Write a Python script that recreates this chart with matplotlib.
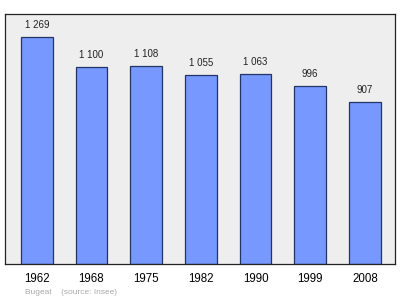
import matplotlib
matplotlib.use("Agg")
import matplotlib.pyplot as plt

years = ["1962", "1968", "1975", "1982", "1990", "1999", "2008"]
population = [1269, 1100, 1108, 1055, 1063, 996, 907]
value_labels = ["1 269", "1 100", "1 108", "1 055", "1 063", "996", "907"]

plt.rcParams['font.family'] = ['Liberation Sans', 'DejaVu Sans']

fig = plt.figure(figsize=(4.0, 2.99), dpi=100)
ax = fig.add_axes([4.5/400, 1 - 263.5/299, (395 - 4.5)/400, (263.5 - 13.5)/299])
ax.set_facecolor('#eeeeee')
x = list(range(len(years)))
ax.bar(x, population, width=0.576, color='#7799ff', edgecolor='#223366', linewidth=0.9, zorder=2)
for xi, v, lab in zip(x, population, value_labels):
    ax.annotate(lab, (xi, v), xytext=(0, 5), textcoords='offset points',
                ha='center', va='bottom', fontsize=7, color='#222222')
ax.set_xlim(-0.59, 6.55)
ax.set_ylim(0, 1400)
ax.set_yticks([])
ax.set_xticks(x)
ax.set_xticklabels(years, fontsize=8.3)
ax.tick_params(axis='x', length=0, pad=7)
for s in ax.spines.values():
    s.set_color('#222222')
    s.set_linewidth(0.9)
fig.text(25/400, 1 - 292/299, "Bugeat    (source: Insee)", fontsize=6.0, color='#aaaaaa', va='center', ha='left')
fig.savefig("out.png", dpi=100)
